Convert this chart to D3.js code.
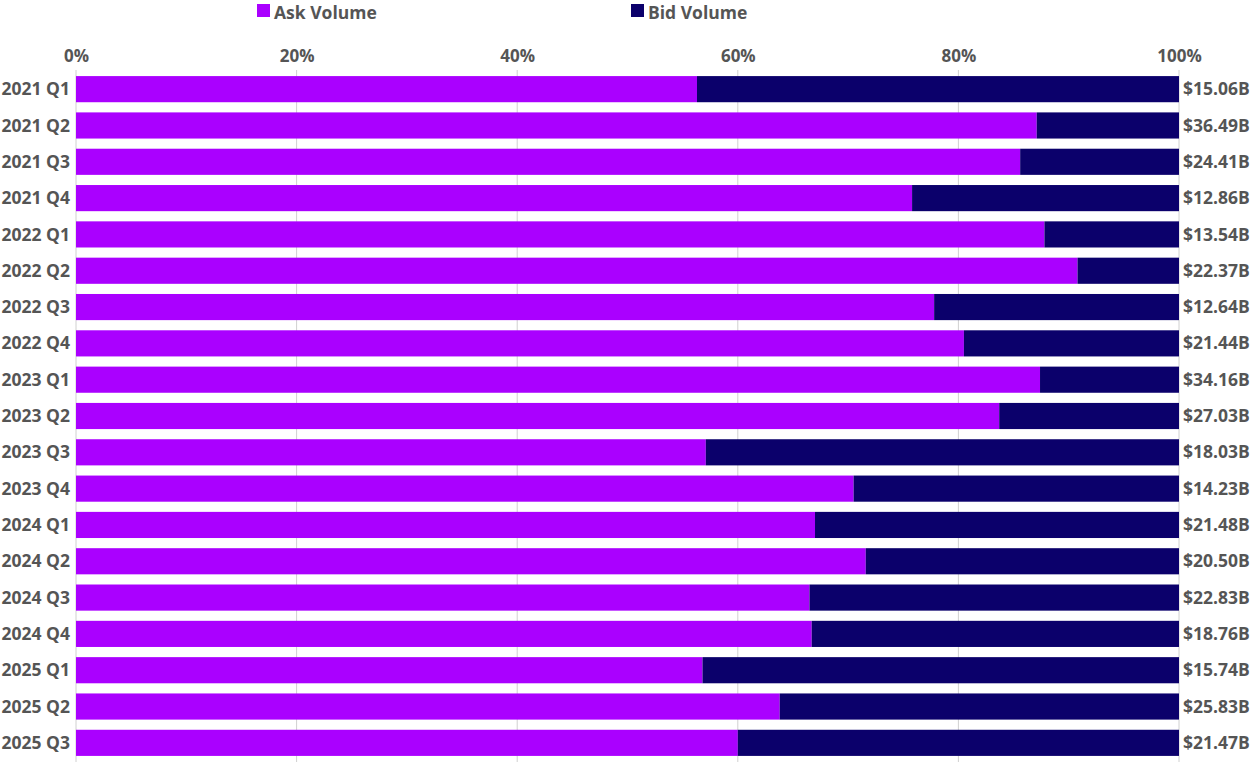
<!DOCTYPE html>
<html lang="en">
<head>
    <meta charset="UTF-8">
    <title>Ask vs Bid Volume</title>
    <style>
        body { margin: 0; background: #fff; }
        #chart text { font-family: "Open Sans", sans-serif; font-weight: 700; fill: #555; }
    </style>
</head>
<body>
    <div id="chart"></div>

    <script src="https://d3js.org/d3.v7.min.js"></script>
    <script>
        const quarters = ["2021 Q1", "2021 Q2", "2021 Q3", "2021 Q4",
            "2022 Q1", "2022 Q2", "2022 Q3", "2022 Q4",
            "2023 Q1", "2023 Q2", "2023 Q3", "2023 Q4",
            "2024 Q1", "2024 Q2", "2024 Q3", "2024 Q4",
            "2025 Q1", "2025 Q2", "2025 Q3"];
        // share of ask volume, in percent
        const askShare = [56.3, 87.1, 85.6, 75.8,
            87.8, 90.8, 77.8, 80.5,
            87.4, 83.7, 57.1, 70.5,
            67.0, 71.6, 66.5, 66.7,
            56.8, 63.8, 60.0];
        const totals = ["$15.06B", "$36.49B", "$24.41B", "$12.86B",
            "$13.54B", "$22.37B", "$12.64B", "$21.44B",
            "$34.16B", "$27.03B", "$18.03B", "$14.23B",
            "$21.48B", "$20.50B", "$22.83B", "$18.76B",
            "$15.74B", "$25.83B", "$21.47B"];
        const seriesNames = ["Ask Volume", "Bid Volume"];
        const colors = ["#aa00ff", "#0b006b"];
        const xTicks = [0, 20, 40, 60, 80, 100];

        const rows = quarters.map((q, i) => ({ quarter: q, ask: askShare[i], bid: 100 - askShare[i], total: totals[i] }));

        const W = 1252, H = 772;
        const svg = d3.select("#chart").append("svg")
            .attr("width", W).attr("height", H);

        const x = d3.scaleLinear().domain([0, 100]).range([76, 1179]);
        const y = d3.scaleBand().domain(quarters).range([71, 761]).paddingInner(0.28).paddingOuter(0.14);

        // grid lines
        svg.append("g").selectAll("line")
            .data(xTicks)
            .join("line")
            .attr("x1", d => x(d)).attr("x2", d => x(d))
            .attr("y1", 70).attr("y2", 762)
            .attr("stroke", "#d0d0d0").attr("stroke-width", 1);

        // top axis
        const xAxis = svg.append("g")
            .attr("transform", "translate(0,62)")
            .call(d3.axisTop(x).tickValues(xTicks).tickFormat(d => d + "%").tickSize(0).tickPadding(0));
        xAxis.select(".domain").remove();
        xAxis.selectAll("text").style("font-size", "17px");

        // stacked bars
        const stack = d3.stack().keys(["ask", "bid"])(rows);
        svg.append("g").selectAll("g")
            .data(stack)
            .join("g")
            .attr("fill", (d, i) => colors[i])
            .selectAll("rect")
            .data(d => d)
            .join("rect")
            .attr("x", d => x(d[0]))
            .attr("width", d => x(d[1]) - x(d[0]))
            .attr("y", d => y(d.data.quarter))
            .attr("height", y.bandwidth());

        // left labels
        svg.append("g").selectAll("text")
            .data(rows)
            .join("text")
            .attr("x", 70)
            .attr("y", d => y(d.quarter) + y.bandwidth() / 2)
            .attr("dy", "0.35em")
            .attr("text-anchor", "end")
            .style("font-size", "17.5px")
            .text(d => d.quarter);

        // right totals
        svg.append("g").selectAll("text")
            .data(rows)
            .join("text")
            .attr("x", 1183)
            .attr("y", d => y(d.quarter) + y.bandwidth() / 2)
            .attr("dy", "0.35em")
            .style("font-size", "17.5px")
            .text(d => d.total);

        // legend
        const legendX = [257, 631];
        const legend = svg.append("g").selectAll("g")
            .data(seriesNames)
            .join("g")
            .attr("transform", (d, i) => `translate(${legendX[i]},4)`);
        legend.append("rect")
            .attr("width", 13).attr("height", 13)
            .attr("fill", (d, i) => colors[i]);
        legend.append("text")
            .attr("x", 17).attr("y", 14.5)
            .style("font-size", "17.5px")
            .text(d => d);
    </script>
</body>
</html>
